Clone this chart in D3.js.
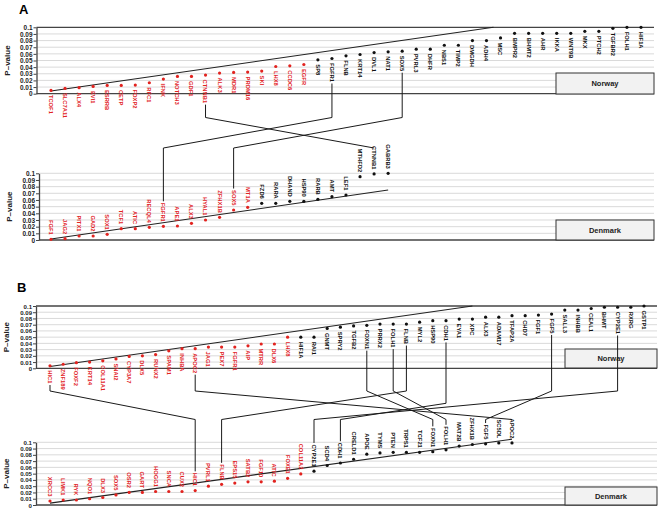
<!DOCTYPE html>
<html><head><meta charset="utf-8">
<script src="https://cdn.jsdelivr.net/npm/d3@7"></script>
<style>body{margin:0;background:#fff}</style>
</head><body><svg id="c" width="661" height="511"></svg>
<script>
// ---------- data ----------
const yTicks = [0,0.01,0.02,0.03,0.04,0.05,0.06,0.07,0.08,0.09,0.1];
const yTickLabels = ["0","0.01","0.02","0.03","0.04","0.05","0.06","0.07","0.08","0.09","0.1"];

const aNorGenes = ["TCOF1","SLC7A11","ALX4","EVI1","ESRRB","CETP","FOXP2","RFC1","IFNK","NOTCH3","GDF1","CTNNB1","ALK3","MDR1","PRDM16","SKI","LHX8","CCDC6","EGFR","SP8","FGFR1","FLNB","KRT14","DVL1","NAT1","SOX5","PVRL3","DHFR","NBS1","TIMP2","DMGDH","ADH4","MSC","BMPR2","BHMT2","AHR","IKKA","WNT9B","MKX","PTCH2","TGFBR2","FOLH1","HIF1A"];
const aNorP = [0.005,0.008,0.009,0.011,0.0125,0.0125,0.013,0.0165,0.022,0.026,0.026,0.028,0.031,0.032,0.0325,0.034,0.041,0.042,0.044,0.051,0.053,0.057,0.059,0.062,0.063,0.064,0.067,0.067,0.073,0.073,0.080,0.080,0.084,0.091,0.091,0.091,0.091,0.091,0.094,0.094,0.0985,0.1,0.1];
const aNorSig = 19;
const aNorThresh = [[0,0.004],[31.5,0.1]];

const aDenGenes = ["FGF1","JAG2","PITX1","GAD2","SOX1","TCF1","ATIC","RECQL4","FGFR1","APE1","ALX3","HYAL1","ZFHX1B","SOX5","MT1A","FZD6","RARA","DHAND","HSP90","RARB","AMT","LEF1","MTHFD2","CTNNB1","GABRB3"];
const aDenP = [0.001,0.002,0.006,0.006,0.0085,0.017,0.017,0.019,0.0205,0.021,0.025,0.030,0.034,0.045,0.049,0.055,0.055,0.058,0.058,0.061,0.065,0.0675,0.095,0.099,0.1];
const aDenSig = 15;
const aDenThresh = [[0,0.0015],[24,0.075]];
const aLinks = ["CTNNB1","FGFR1","SOX5"];

const bNorGenes = ["HIC1","ZNF189","FOXF2","KRT14","COL11A1","SNAI2","CYP3A7","DLX5","RUNX2","SPAM1","INHBA","APOC2","JAG1","PEX7","FGFR1","AIP","MTRR","DLX6","LHX8","HIF1A","RAI1","GNMT","SPRY2","TGFB2","FOXN1","PRRX2","FOLH1","FLNB","MYL2","HSP90","CDH1","EYA1","XPC","ALX3","ADAM17","TFAP2A","CHD7","FGF1","FGF5","SALL3","INHBB","CEAL1","BHMT","CYP2E1","RXRG","GSTP1"];
const bNorP = [0.004,0.0065,0.009,0.010,0.012,0.015,0.019,0.020,0.022,0.028,0.0315,0.0315,0.034,0.034,0.034,0.036,0.039,0.039,0.050,0.050,0.050,0.064,0.066,0.068,0.069,0.071,0.071,0.071,0.074,0.0765,0.0765,0.079,0.079,0.082,0.082,0.0845,0.0845,0.0855,0.087,0.0935,0.0935,0.096,0.098,0.098,0.098,0.1];
const bNorSig = 19;
const bNorThresh = [[0,0.003],[32,0.1]];

const bDenGenes = ["XRCC3","LIMK1","RYK","NQO1","DLX3","SOX5","OSR2","GART","HOGG1","SNCA","CUX2","HIC1","PVRL1","FLNB","EPS15","SATB2","FGF10","ATIC","FOXE1","COL11A2","CYP2E1","SCD4","CDH1","CRELD1","APOE","TYMS","PTEN","TRPS1","TCF21","FOXN1","FOLH1","MAT2B","ZFHX1B","FGF5","SC5DL","APOC2"];
const bDenP = [0.0064,0.008,0.008,0.010,0.012,0.016,0.020,0.020,0.0215,0.0215,0.0215,0.023,0.030,0.033,0.035,0.037,0.037,0.038,0.0425,0.0495,0.054,0.063,0.067,0.073,0.081,0.083,0.084,0.084,0.084,0.085,0.088,0.094,0.0965,0.0975,0.099,0.099];
const bDenSig = 20;
const bDenThresh = [[0,0.003],[35,0.105]];
const bLinks = ["HIC1","APOC2","FLNB","FOXN1","FOLH1","CDH1","FGF5","CYP2E1"];

// ---------- drawing ----------
const svg = d3.select("#c");
const FONT = "'Liberation Sans', Arial, Helvetica, sans-serif";
const RED = "#e2231f";

const xA = d3.scaleLinear().domain([0, aNorGenes.length-1]).range([51, 641]);
const xB = d3.scaleLinear().domain([0, bNorGenes.length-1]).range([50, 644]);

function subPanel(o){
  const y = d3.scaleLinear().domain([0,0.1]).range([o.yBottom, o.yTop]);
  const step = (o.yBottom - o.yTop) / 10;
  const g = svg.append("g");
  g.selectAll("line.grid").data(yTicks).join("line")
    .attr("x1", o.left).attr("x2", o.right)
    .attr("y1", d=>y(d)).attr("y2", d=>y(d))
    .attr("stroke", d => (d===0 || (d===0.1 && o.topDark)) ? "#444" : "#d0d0d0")
    .attr("stroke-width", d => (d===0 || (d===0.1 && o.topDark)) ? 1.3 : 0.8);
  const ax = d3.axisLeft(y).tickValues(yTicks).tickFormat((d,i)=>yTickLabels[i]).tickSize(3).tickSizeOuter(0);
  const ag = g.append("g").attr("transform", `translate(${o.left},0)`).call(ax);
  ag.select(".domain").attr("stroke","#444").attr("stroke-width",1.3);
  ag.selectAll(".tick line").attr("stroke","#444");
  ag.selectAll(".tick text").attr("font-family",FONT).attr("font-size",Math.min(6.6, step*0.97)).attr("font-weight","bold").attr("fill","#222").attr("x",-4).attr("dy","0.34em");
  g.append("text").attr("transform",`translate(${o.left-27},${(o.yTop+o.yBottom)/2}) rotate(-90)`)
    .attr("text-anchor","middle").attr("font-family",FONT).attr("font-size",8).attr("font-weight","bold").attr("fill","#222").text("P\u2013value");
  // box
  g.append("rect").attr("x",o.box[0]).attr("y",o.box[1]).attr("width",o.box[2]).attr("height",o.box[3])
    .attr("fill","#f2f2f2").attr("stroke","#333").attr("stroke-width",1);
  g.append("text").attr("x",o.box[0]+o.box[2]/2).attr("y",o.box[1]+o.box[3]/2).attr("dy","0.35em")
    .attr("text-anchor","middle").attr("font-family",FONT).attr("font-size",7.5).attr("font-weight","bold").attr("fill","#222").text(o.boxText);
  // threshold
  g.append("line").attr("x1",o.xs(o.th[0][0])).attr("y1",y(o.th[0][1]))
    .attr("x2",o.xs(o.th[1][0])).attr("y2",y(o.th[1][1])).attr("stroke","#222").attr("stroke-width",1.1);
  const data = o.genes.map((gname,i)=>({g:gname,i,p:o.p[i],sig:i<o.sig}));
  g.selectAll("circle").data(data).join("circle")
    .attr("cx",d=>o.xs(d.i)).attr("cy",d=>y(d.p)).attr("r",1.6)
    .attr("fill",d=>d.sig?RED:"#111");
  const ends = {};
  g.selectAll("text.lab").data(data).join("text").attr("class","lab")
    .attr("transform",d=> o.below ? `translate(${o.xs(d.i)},${y(d.p)+4.5}) rotate(90)` : `translate(${o.xs(d.i)},${y(d.p)-4.5}) rotate(90)`)
    .attr("text-anchor", o.below ? "start" : "end")
    .attr("dy","0.35em")
    .attr("font-family",FONT).attr("font-size",5.8).attr("font-weight","bold")
    .attr("fill",d=>d.sig?RED:"#111")
    .text(d=>d.g)
    .each(function(d){
      const len = this.getComputedTextLength();
      ends[d.g] = {x:o.xs(d.i), y: o.below ? y(d.p)+4.5+len : y(d.p)-4.5-len};
    });
  return ends;
}

function links(names, nor, den, norY, denY, norOverride){
  names.forEach(n=>{
    const a = nor[n], b = den[n];
    const ny = (norOverride && norOverride[n]) || norY;
    const pts = [[a.x,a.y+1.5],[a.x,ny],[b.x,denY],[b.x,Math.max(b.y-1.5, denY)]];
    svg.append("path").attr("d",d3.line()(pts)).attr("fill","none").attr("stroke","#1a1a1a").attr("stroke-width",1);
  });
}

// Panel letters
svg.append("text").attr("x",19).attr("y",14).attr("font-family",FONT).attr("font-size",13).attr("font-weight","bold").text("A");
svg.append("text").attr("x",17).attr("y",292).attr("font-family",FONT).attr("font-size",13).attr("font-weight","bold").text("B");

const aN = subPanel({genes:aNorGenes,p:aNorP,sig:aNorSig,th:aNorThresh,xs:xA,below:true,yTop:27.3,yBottom:93.7,left:36.5,right:654,topDark:true,box:[556,73,98,21],boxText:"Norway"});
const aD = subPanel({genes:aDenGenes,p:aDenP,sig:aDenSig,th:aDenThresh,xs:xA,below:false,yTop:173.3,yBottom:240,left:39,right:654,topDark:false,box:[556,220,98,20],boxText:"Denmark"});
links(aLinks, aN, aD, 117.5, 148);

const bN = subPanel({genes:bNorGenes,p:bNorP,sig:bNorSig,th:bNorThresh,xs:xB,below:true,yTop:306,yBottom:368.3,left:36,right:657,topDark:true,box:[565,349,92,19],boxText:"Norway"});
const bD = subPanel({genes:bDenGenes,p:bDenP,sig:bDenSig,th:bDenThresh,xs:xB,below:false,yTop:442.3,yBottom:505,left:36,right:657,topDark:false,box:[565,487,92,18],boxText:"Denmark"});
links(bLinks, bN, bD, 391, 419.5, {CDH1:403.3});
</script>
</body></html>
